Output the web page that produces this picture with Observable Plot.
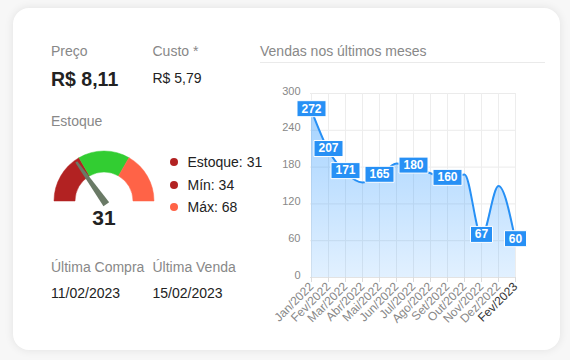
<!DOCTYPE html>
<html><head><meta charset="utf-8">
<script src="https://cdn.jsdelivr.net/npm/d3@7"></script>
<script src="https://cdn.jsdelivr.net/npm/@observablehq/plot@0.6"></script>
<style>
html,body{margin:0;padding:0;background:#f7f7f7;}
body{width:570px;height:360px;position:relative;overflow:hidden;font-family:"Liberation Sans",Arial,Helvetica,sans-serif;}
.card{position:absolute;left:13px;top:8px;width:547px;height:342px;background:#fff;border-radius:16px;box-shadow:0 0 10px rgba(0,0,0,0.09);}
.t{position:absolute;line-height:1;white-space:nowrap;}
.lbl{font-size:14px;color:#888;}
.val{font-size:14px;color:#222;}
.dot{position:absolute;width:8px;height:8px;border-radius:50%;}
#chart{position:absolute;left:250px;top:80px;}
#gauge{position:absolute;left:44px;top:145px;}
.title{position:absolute;left:260px;top:44px;width:285px;height:18px;border-bottom:1px solid #eaeaea;font-size:14px;color:#888;line-height:1;}
</style></head><body>
<div class="card"></div>
<div class="t lbl" style="left:51px;top:44px;">Preço</div>
<div class="t" style="left:51px;top:70px;font-size:19.5px;font-weight:bold;color:#222;">R$ 8,11</div>
<div class="t lbl" style="left:152.5px;top:44px;">Custo *</div>
<div class="t val" style="left:152.5px;top:71px;">R$ 5,79</div>
<div class="t lbl" style="left:51px;top:113.5px;">Estoque</div>
<div id="legend"></div>
<div id="gaugeValue" class="t" style="left:74px;top:207px;width:60px;text-align:center;font-size:21px;font-weight:bold;color:#222;"></div>
<div class="t lbl" style="left:51px;top:259.8px;">Última Compra</div>
<div class="t lbl" style="left:152.5px;top:259.8px;">Última Venda</div>
<div class="t val" style="left:51px;top:285.5px;">11/02/2023</div>
<div class="t val" style="left:152.5px;top:285.5px;">15/02/2023</div>
<div class="title">Vendas nos últimos meses</div>
<div id="gauge"></div>
<div id="chart"></div>
<script>
const months = ["Jan/2022","Fev/2022","Mar/2022","Abr/2022","Mai/2022","Jun/2022","Jul/2022","Ago/2022","Set/2022","Out/2022","Nov/2022","Dez/2022","Fev/2023"];
const sales = [272,207,171,155,165,186,180,170,160,168,67,149,60];
const labeledMonths = ["Jan/2022","Fev/2022","Mar/2022","Mai/2022","Jul/2022","Set/2022","Nov/2022","Fev/2023"];
const yTicks = [0,60,120,180,240,300];

const stockValue = 31;
const stockMin = 34;
const stockMax = 68;
const gaugeLimits = [0, 34, 68, 102];
const gaugeColors = ["#b22222", "#32cd32", "#ff6347"];
const legendItems = [
  {label: "Estoque: " + stockValue, color: "#b22222"},
  {label: "Mín: " + stockMin, color: "#b22222"},
  {label: "Máx: " + stockMax, color: "#ff6347"}
];

const blue = "#2790f5";
const data = months.map((m, i) => ({month: m, value: sales[i]}));
const labeled = data.filter(d => labeledMonths.includes(d.month));
const lab3 = labeled.filter(d => String(d.value).length >= 3);
const lab2 = labeled.filter(d => String(d.value).length < 3);

const boxSymbol = (w, h) => ({draw(ctx) {
  ctx.moveTo(-w/2, -h/2); ctx.lineTo(w/2, -h/2); ctx.lineTo(w/2, h/2); ctx.lineTo(-w/2, h/2); ctx.closePath();
}});

const defs = () => {
  const s = d3.create("svg:defs");
  const lg = s.append("linearGradient").attr("id","salesGrad").attr("x1",0).attr("x2",0).attr("y1",0).attr("y2",1);
  lg.append("stop").attr("offset","0%").attr("stop-color","#1e90ff").attr("stop-opacity",0.4);
  lg.append("stop").attr("offset","100%").attr("stop-color","#1e90ff").attr("stop-opacity",0.13);
  return s.node();
};

const chart = Plot.plot({
  width: 290, height: 257,
  marginLeft: 60, marginRight: 25, marginTop: 13, marginBottom: 60,
  style: {fontFamily: '"Liberation Sans", Arial, sans-serif', background: "transparent", overflow: "visible"},
  x: {type: "point", domain: months, padding: 0},
  y: {domain: [0, 300]},
  marks: [
    defs,
    Plot.gridY({ticks: yTicks, stroke: "#ebebeb", strokeOpacity: 1}),
    Plot.gridX({stroke: "#ededed", strokeOpacity: 1}),
    Plot.areaY(data, {x: "month", y: "value", curve: "monotone-x", fill: "url(#salesGrad)"}),
    Plot.ruleY([0], {stroke: "#e3e3e3"}),
    Plot.lineY(data, {x: "month", y: "value", curve: "monotone-x", stroke: blue, strokeWidth: 2}),
    Plot.axisY({ticks: yTicks, tickSize: 0, tickPadding: 10, fontSize: 11, fill: "#888", dy: -2.5, label: null}),
    Plot.axisX({tickRotate: -45, tickSize: 5, tickPadding: 2, fontSize: 12, stroke: "#dcdcdc",
      fill: d => d === "Fev/2023" ? "#333" : "#888", label: null}),
    Plot.dot(lab3, {x: "month", y: "value", r: 4, symbol: boxSymbol(29, 16), fill: blue, stroke: "white", strokeWidth: 1, dy: -2}),
    Plot.dot(lab2, {x: "month", y: "value", r: 4, symbol: boxSymbol(22, 16), fill: blue, stroke: "white", strokeWidth: 1, dy: -2}),
    Plot.text(labeled, {x: "month", y: "value", text: d => String(d.value), fill: "white", fontWeight: "bold", fontSize: 12, dy: -2})
  ]
});
document.getElementById("chart").append(chart);

// Gauge
const cx = 60, cy = 56;
const angle = d3.scaleLinear().domain([gaugeLimits[0], gaugeLimits[gaugeLimits.length-1]]).range([-Math.PI/2, Math.PI/2]);
const arc = d3.arc().innerRadius(29).outerRadius(50);
const gsvg = d3.create("svg").attr("width", 120).attr("height", 70);
const gg = gsvg.append("g").attr("transform", `translate(${cx},${cy})`);
gaugeColors.forEach((c, i) => {
  gg.append("path").attr("d", arc({startAngle: angle(gaugeLimits[i]), endAngle: angle(gaugeLimits[i+1])})).attr("fill", c).attr("stroke", c).attr("stroke-width", 0.5);
});
const a = angle(stockValue);
const dir = [Math.sin(a), -Math.cos(a)], perp = [Math.cos(a), Math.sin(a)];
const p = (t, w) => [dir[0]*t + perp[0]*w, dir[1]*t + perp[1]*w];
const pts = [p(-4, -3.5), p(48, -1.2), p(48, 1.2), p(-4, 3.5)];
gg.append("path").attr("d", "M" + pts.map(q => q.join(",")).join("L") + "Z").attr("fill", "#6a7a66");
document.getElementById("gauge").append(gsvg.node());
document.getElementById("gaugeValue").textContent = String(stockValue);

// Legend
const leg = document.getElementById("legend");
legendItems.forEach((it, i) => {
  const y = 167.3 + i * 22.2;
  const dot = document.createElement("div");
  dot.className = "dot"; dot.style.left = "169.5px"; dot.style.top = (y - 9) + "px"; dot.style.background = it.color;
  const tx = document.createElement("div");
  tx.className = "t val"; tx.style.left = "187.5px"; tx.style.top = (y - 11.85) + "px"; tx.textContent = it.label;
  leg.append(dot, tx);
});
</script>
</body></html>
